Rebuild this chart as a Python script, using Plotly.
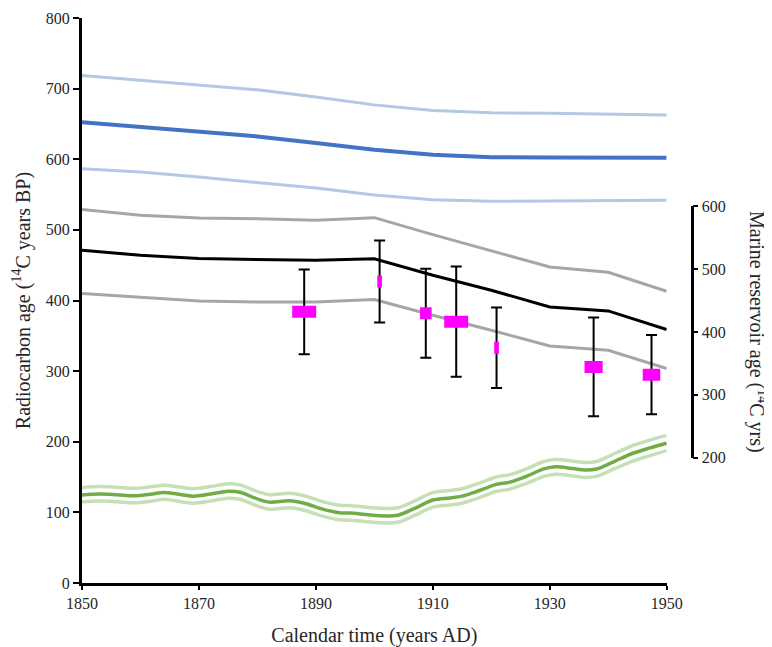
import plotly.graph_objects as go

# ---------------- data ----------------
years10 = [1850, 1860, 1870, 1880, 1890, 1900, 1910, 1920, 1930, 1940, 1950]
blue_mid = [652.5, 645.5, 639, 632.3, 623, 613.5, 606.4, 603, 602.6, 602.2, 602.2]
blue_up = [718.6, 711.6, 705.4, 698.4, 688, 677, 669, 665.8, 665.3, 663.5, 662.5]
blue_lo = [586.6, 581.9, 574.8, 567.3, 559.2, 549.5, 542.8, 540.4, 540.8, 541.8, 541.8]
gray_up = [529, 520.6, 516.8, 515.9, 513.5, 517.3, 493.3, 470.1, 447.5, 440, 413]
black_mid = [471, 464, 459.3, 457.9, 457, 459, 435.7, 414.5, 390.9, 385.3, 358.9]
gray_lo = [409.8, 405, 399.3, 398, 398, 401.5, 379.1, 357.9, 335.7, 329.6, 303.7]

green_years = [1850, 1853, 1856, 1859, 1862, 1864, 1867, 1869, 1872, 1875, 1877, 1880,
               1882, 1885.5, 1888, 1891, 1894, 1896, 1899, 1902, 1904, 1907, 1910, 1913,
               1915, 1918, 1921, 1923, 1926, 1929, 1931, 1934, 1936, 1938, 1941, 1944,
               1947, 1950]
green_mid = [124.5, 126, 125, 123.5, 126, 128.3, 125, 123, 126, 130, 128.5, 119,
             114.5, 116.5, 113, 105, 99.5, 99, 96.5, 95, 96, 106, 117.5, 120.5,
             123, 131, 140, 142.5, 151, 161.5, 164.5, 162, 160, 161.5, 172, 183,
             191, 198]
green_up = [135, 136.5, 135.5, 134, 136.5, 138.5, 135.5, 133.5, 136.5, 140.5, 139, 129.5,
            125, 127, 123.5, 115.5, 110, 109.5, 107, 105.5, 106.5, 116.5, 128, 131,
            133.5, 141.5, 150.5, 153, 161.5, 172, 175, 172.5, 170.5, 172, 183, 194,
            202, 209]
green_lo = [114.5, 116, 115, 113.5, 116, 118.5, 115, 113, 116, 120, 118.5, 109,
            104.5, 106.5, 103, 95, 89.5, 89, 86.5, 85, 86, 96, 107.5, 110.5,
            113, 121, 130, 132.5, 141, 151, 154, 151.5, 149.5, 151, 161.5, 172,
            180, 187.5]

samp_year = [1888, 1900.9, 1908.8, 1914, 1920.9, 1937.5, 1947.4]
samp_age = [384, 427, 382, 370, 333, 306, 295]
samp_err = [60, 58, 63, 78, 57, 70, 56]
samp_yr_width = [4.1, 0.8, 2.0, 4.1, 0.8, 3.1, 3.0]

x_ticks = [1850, 1870, 1890, 1910, 1930, 1950]
y_ticks = [0, 100, 200, 300, 400, 500, 600, 700, 800]
y2_ticks = [200, 300, 400, 500, 600]

# ---------------- styling ----------------
FONT = "Liberation Serif"
BOX_HALF = 8.5  # half height of the sample boxes, in y units

fig = go.Figure()

def line(x, y, color, w):
    fig.add_trace(go.Scatter(x=x, y=y, mode="lines", line=dict(color=color, width=w),
                             hoverinfo="skip", showlegend=False))

line(years10, blue_up, "#B4C7E7", 3)
line(years10, blue_lo, "#B4C7E7", 3)
line(years10, blue_mid, "#4472C4", 4)
line(years10, gray_up, "#A6A6A6", 3)
line(years10, gray_lo, "#A6A6A6", 3)
line(years10, black_mid, "#000000", 3)

for gy in (green_up, green_lo):
    fig.add_trace(go.Scatter(x=green_years, y=gy, mode="lines",
                             line=dict(color="#C5E0B4", width=3.5, shape="spline", smoothing=1),
                             hoverinfo="skip", showlegend=False))
fig.add_trace(go.Scatter(x=green_years, y=green_mid, mode="lines",
                         line=dict(color="#70AD47", width=3.5, shape="spline", smoothing=1),
                         hoverinfo="skip", showlegend=False))

# error bars
fig.add_trace(go.Scatter(x=samp_year, y=samp_age, mode="markers",
                         marker=dict(size=1, color="rgba(0,0,0,0)"),
                         error_y=dict(type="data", array=samp_err, color="black",
                                      thickness=2, width=5.5),
                         hoverinfo="skip", showlegend=False))

# sample boxes (calendar range x fixed-height)
bx, by = [], []
for xc, yc, w in zip(samp_year, samp_age, samp_yr_width):
    x0, x1 = xc - w / 2, xc + w / 2
    y0, y1 = yc - BOX_HALF, yc + BOX_HALF
    bx += [x0, x1, x1, x0, x0, None]
    by += [y0, y0, y1, y1, y0, None]
fig.add_trace(go.Scatter(x=bx, y=by, mode="lines", fill="toself",
                         fillcolor="#FF00FF", line=dict(width=0, color="#FF00FF"),
                         hoverinfo="skip", showlegend=False))

# dummy trace for the right axis
fig.add_trace(go.Scatter(x=[1900], y=[400], yaxis="y2", mode="markers",
                         marker=dict(size=1, color="rgba(0,0,0,0)"),
                         hoverinfo="skip", showlegend=False))

OFF = 8  # page body margin
W, H = 772 - OFF, 647 - OFF
L, R, T = 82 - OFF, 72, 17.5 - OFF
B = H - (583 - OFF)
pw = W - L - R
ph = H - T - B
xdom_end = (666.7 - OFF - L) / pw
y2_pos = (691.7 - OFF - L) / pw
y2_dom = [(583 - 457.5) / ph, (583 - 206) / ph]

tickfont = dict(family=FONT, size=16, color="#262626")
titlefont = dict(family=FONT, size=20, color="#262626")

fig.update_layout(
    width=W, height=H,
    margin=dict(l=L, r=R, t=T, b=B, autoexpand=False),
    paper_bgcolor="white", plot_bgcolor="rgba(0,0,0,0)",
    showlegend=False,
    xaxis=dict(range=[1850, 1950], domain=[0, xdom_end], tickvals=x_ticks,
               automargin=False,
               showgrid=False, zeroline=False, showline=True, linecolor="black",
               linewidth=3, ticks="outside", ticklen=4, tickwidth=2, tickcolor="black",
               tickfont=tickfont,
               title=dict(text="Calendar time (years AD)", font=titlefont, standoff=20)),
    yaxis=dict(range=[0, 800], tickvals=y_ticks, showgrid=False, zeroline=False,
               automargin=False,
               showline=True, linecolor="black", linewidth=3, ticks="outside",
               ticklen=6, tickwidth=2, tickcolor="black", tickfont=tickfont),
    yaxis2=dict(range=[200, 600], domain=y2_dom, anchor="free", position=y2_pos,
                automargin=False,
                side="right", tickvals=y2_ticks, showgrid=False, zeroline=False,
                showline=True, linecolor="black", linewidth=2.5, ticks="outside",
                ticklen=5, tickwidth=2, tickcolor="black", tickfont=tickfont),
    annotations=[
        dict(text="Radiocarbon age (<sup>14</sup>C years BP)", textangle=-90,
             xref="paper", yref="paper", x=(21.7 - OFF - L) / pw, y=0.5,
             xanchor="center", yanchor="middle", showarrow=False, font=titlefont),
        dict(text="Marine reservoir age (<sup>14</sup>C yrs)", textangle=90,
             xref="paper", yref="paper", x=(757 - OFF - L) / pw,
             y=(y2_dom[0] + y2_dom[1]) / 2, xanchor="center", yanchor="middle",
             showarrow=False, font=titlefont)],
)

fig.write_html("out.html")
